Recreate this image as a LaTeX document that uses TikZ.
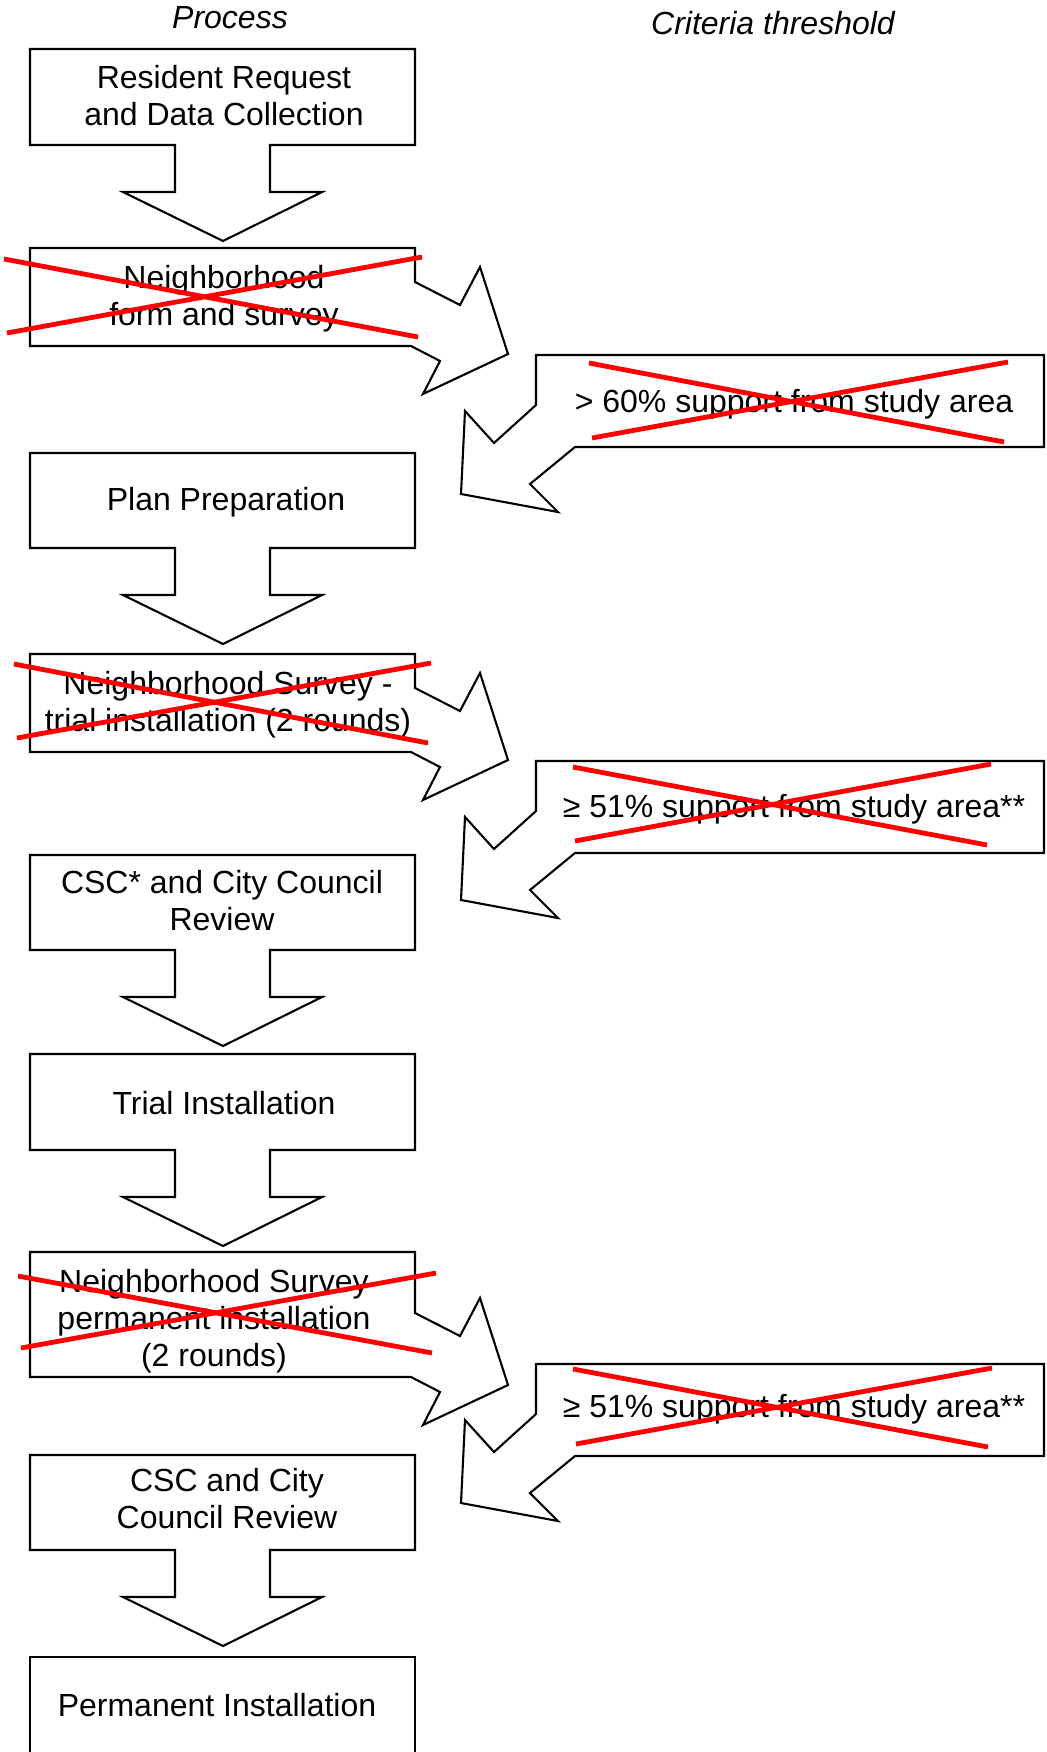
\documentclass[tikz,border=0pt]{standalone}
\usepackage{fontspec}
\setmainfont{Liberation Sans}
\newcommand{\downtip}[1]{-- (270,#1) -- (270,#1+47) -- (322,#1+47) -- (223,#1+96) -- (123,#1+47) -- (175,#1+47) -- (175,#1)}
\newcommand{\benttip}[1]{-- (415,#1-64) -- (460,#1-41) -- (480,#1-79) -- (508,#1+8) -- (423,#1+48) -- (440,#1+15) -- (411,#1)}
\newcommand{\critbox}[1]{(536,#1) -- (1044,#1) -- (1044,#1+92) -- (575,#1+92) -- (530,#1+129) -- (558,#1+157) -- (461,#1+139) -- (465,#1+56) -- (494,#1+88) -- (536,#1+50) -- cycle}
\tikzset{
    outline/.style={line width=1.05pt},
    strike/.style={red, line width=2.4pt},
    txt/.style={align=center, inner sep=0pt, font=\fontsize{16}{18.5}\selectfont},
    head/.style={txt, font=\fontsize{16}{18.5}\selectfont\itshape}
}
\begin{document}
\begin{tikzpicture}[x=0.5pt, y=-0.5pt]
    \useasboundingbox (0,0) rectangle (1046,1752);
    \node[head] (process) at (230,18) {Process};
    \node[head] (criteria) at (773,23) {Criteria threshold};

    \draw[outline] (30,49) -- (415,49) -- (415,145) \downtip{145} -- (30,145) -- cycle;
    \draw[outline] (30,248) -- (415,248) \benttip{346} -- (30,346) -- cycle;
    \draw[outline] \critbox{355};
    \draw[outline] (30,453) -- (415,453) -- (415,548) \downtip{548} -- (30,548) -- cycle;
    \draw[outline] (30,654) -- (415,654) \benttip{752} -- (30,752) -- cycle;
    \draw[outline] \critbox{761};
    \draw[outline] (30,855) -- (415,855) -- (415,950) \downtip{950} -- (30,950) -- cycle;
    \draw[outline] (30,1054) -- (415,1054) -- (415,1150) \downtip{1150} -- (30,1150) -- cycle;
    \draw[outline] (30,1252) -- (415,1252) \benttip{1377} -- (30,1377) -- cycle;
    \draw[outline] \critbox{1364};
    \draw[outline] (30,1455) -- (415,1455) -- (415,1550) \downtip{1550} -- (30,1550) -- cycle;
    \draw[outline] (30,1760) -- (30,1657) -- (415,1657) -- (415,1760);

    \node[txt] (request) at (224,96) {Resident Request\\and Data Collection};
    \node[txt] (nbform) at (224,299) {Neighborhood\\form and survey};
    \node[txt] (support60) at (794,404) {> 60\% support from study area};
    \node[txt] (plan) at (226,502) {Plan Preparation};
    \node[txt] (trialsurvey) at (228,705) {Neighborhood Survey -\\trial installation (2 rounds)};
    \node[txt] (support51a) at (794,809) {≥ 51\% support from study area**};
    \node[txt] (review1) at (222,901) {CSC* and City Council\\Review};
    \node[txt] (trial) at (224,1103) {Trial Installation};
    \node[txt] (permsurvey) at (214,1321) {Neighborhood Survey\\permanent installation\\(2 rounds)};
    \node[txt] (support51b) at (794,1409) {≥ 51\% support from study area**};
    \node[txt] (review2) at (227,1499) {CSC and City\\Council Review};
    \node[txt] (permanent) at (217,1705) {Permanent Installation};

    \draw[strike] (4,259) -- (418,337);
    \draw[strike] (7,333) -- (422,257);
    \draw[strike] (589,363) -- (1004,442);
    \draw[strike] (592,438) -- (1008,362);
    \draw[strike] (14,664) -- (428,743);
    \draw[strike] (17,738) -- (431,663);
    \draw[strike] (573,767) -- (987,845);
    \draw[strike] (575,841) -- (991,764);
    \draw[strike] (18,1276) -- (432,1353);
    \draw[strike] (21,1348) -- (436,1273);
    \draw[strike] (573,1369) -- (988,1447);
    \draw[strike] (576,1444) -- (992,1368);
\end{tikzpicture}
\end{document}
